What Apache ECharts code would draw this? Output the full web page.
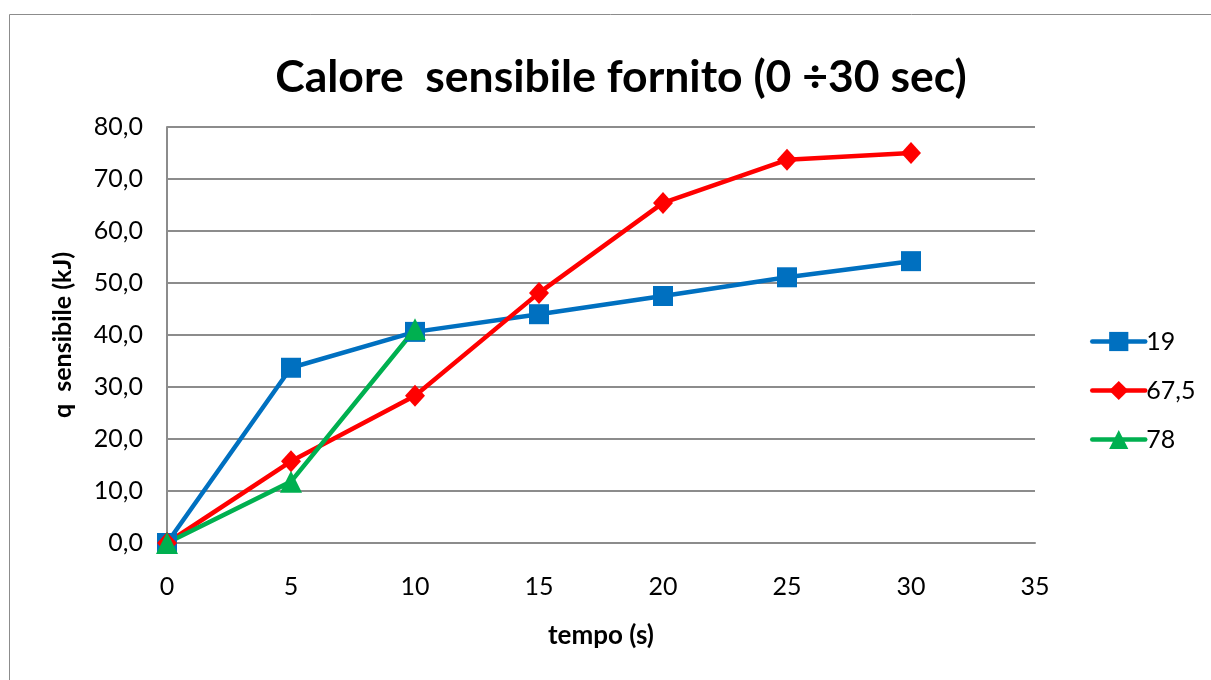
<!DOCTYPE html>
<html>
<head>
<meta charset="utf-8">
<script src="https://cdn.jsdelivr.net/npm/echarts@6/dist/echarts.min.js"></script>
<style>
html,body{margin:0;padding:0;background:#fff;}
#chart{width:1211px;height:680px;}
</style>
</head>
<body>
<div id="chart"></div>
<script>
const tempo = [0, 5, 10, 15, 20, 25, 30];
const s19 = [0, 33.7, 40.6, 44.0, 47.5, 51.1, 54.2];
const s675 = [0, 15.7, 28.3, 48.1, 65.4, 73.7, 75.0];
const s78 = [0, 11.8, 41.1];
const seriesNames = ['19', '67,5', '78'];
const titleText = 'Calore  sensibile fornito (0 \u00f730 sec)';
const xName = 'tempo (s)';
const yName = 'q  sensibile (kJ)';

const font = 'Lato, "Open Sans", sans-serif';
function pairs(xs, ys) { return ys.map((v, i) => [xs[i], v]); }

const chart = echarts.init(document.getElementById('chart'));
chart.setOption({
  animation: false,
  backgroundColor: '#fff',
  textStyle: { fontFamily: font },
  graphic: [{
    type: 'rect', shape: { x: 9.5, y: 14.5, width: 1400, height: 900 },
    style: { fill: 'none', stroke: '#8c8c8c', lineWidth: 1 }, silent: true, z: -1
  }],
  title: {
    text: titleText, left: 616, textAlign: 'center', top: 50,
    textStyle: { fontFamily: font, fontSize: 44.5, fontWeight: 'bold', color: '#000' }
  },
  legend: {
    orient: 'vertical', left: 1085, top: 324, itemWidth: 53, itemHeight: 24, itemGap: 24,
    textStyle: { fontFamily: font, fontSize: 25, color: '#000', padding: [0, 0, 0, -4] },
    lineStyle: { width: 4.5, cap: 'round' },
    data: seriesNames
  },
  grid: { left: 167, right: 176, top: 127, bottom: 137, containLabel: false },
  xAxis: {
    type: 'value', min: 0, max: 35, interval: 5,
    name: xName, nameLocation: 'middle', nameGap: 80,
    nameTextStyle: { fontFamily: font, fontSize: 26, fontWeight: 'bold', color: '#000' },
    axisLine: { show: true, lineStyle: { color: '#8c8c8c', width: 2 } },
    axisTick: { show: false },
    axisLabel: { fontFamily: font, fontSize: 25, color: '#000', margin: 31 },
    splitLine: { show: false }
  },
  yAxis: {
    type: 'value', min: 0, max: 80, interval: 10,
    name: yName, nameLocation: 'middle', nameGap: 92, nameRotate: 90,
    nameTextStyle: { fontFamily: font, fontSize: 25, fontWeight: 'bold', color: '#000' },
    axisLine: { show: true, lineStyle: { color: '#8c8c8c', width: 2 } },
    axisTick: { show: false },
    axisLabel: { fontFamily: font, fontSize: 25, color: '#000', margin: 24,
      formatter: v => v.toFixed(1).replace('.', ',') },
    splitLine: { show: true, lineStyle: { color: '#8c8c8c', width: 2 } }
  },
  series: [
    { name: seriesNames[0], type: 'line', data: pairs(tempo, s19), symbol: 'rect', symbolSize: 20,
      lineStyle: { color: '#0070c0', width: 4.5 }, itemStyle: { color: '#0070c0' } },
    { name: seriesNames[1], type: 'line', data: pairs(tempo, s675), symbol: 'diamond', symbolSize: [20, 22],
      lineStyle: { color: '#ff0000', width: 4.5 }, itemStyle: { color: '#ff0000' } },
    { name: seriesNames[2], type: 'line', data: pairs(tempo, s78), symbol: 'triangle', symbolSize: 22,
      lineStyle: { color: '#00b050', width: 4.5 }, itemStyle: { color: '#00b050' } }
  ]
});
</script>
</body>
</html>
